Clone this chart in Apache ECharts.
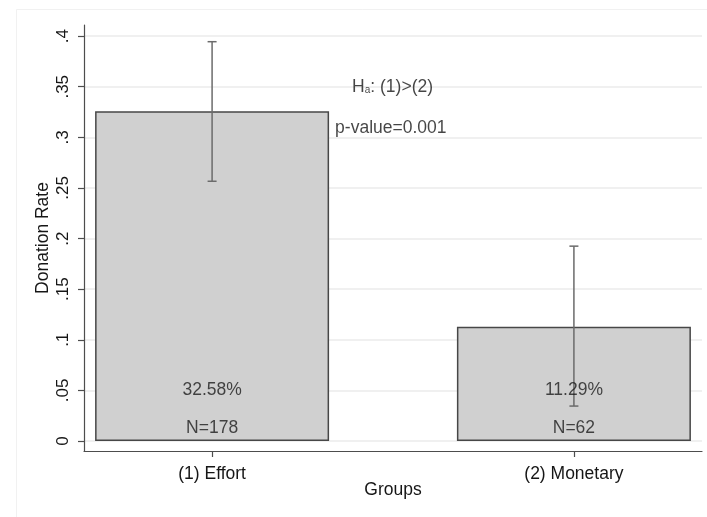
<!DOCTYPE html>
<html>
<head>
<meta charset="utf-8">
<script src="https://cdn.jsdelivr.net/npm/echarts@6/dist/echarts.min.js"></script>
<style>
html,body{margin:0;padding:0;background:#fff;}
#c{width:707px;height:517px;}
</style>
</head>
<body>
<div id="c"></div>
<script>
// ---- data ----
const categories = ['(1) Effort', '(2) Monetary'];
const rates = [0.3258, 0.1129];
const ciLow = [0.2566, 0.0345];
const ciHigh = [0.3945, 0.1925];
const counts = [178, 62];
const yTicks = [0, 0.05, 0.1, 0.15, 0.2, 0.25, 0.3, 0.35, 0.4];
const xPos = [1, 2];

const FONT = '"Liberation Sans", Arial, sans-serif';
const TXT = '#161616';
const chart = echarts.init(document.getElementById('c'), null, {renderer: 'canvas'});

const barData = xPos.map((x, i) => [x, rates[i]]);
const errData = xPos.map((x, i) => [x, ciLow[i], ciHigh[i]]);
const pctLabelData = xPos.map((x, i) => ({value: [x, 0.05], label: {formatter: (rates[i] * 100).toFixed(2) + '%'}}));
const nLabelData = xPos.map((x, i) => ({value: [x, 0.013], label: {formatter: 'N=' + counts[i]}}));

const option = {
  backgroundColor: '#fff',
  animation: false,
  graphic: [{
    type: 'rect', left: 14, top: 7, silent: true, z: -10,
    shape: {width: 720, height: 540},
    style: {fill: 'none', stroke: '#f1f1f1', lineWidth: 1}
  }],
  grid: {left: 84, right: 5, top: 25, bottom: 66, containLabel: false},
  xAxis: {
    type: 'value', min: 0.646, max: 2.354,
    name: 'Groups', nameLocation: 'middle', nameGap: 30, nameMoveOverlap: false,
    nameTextStyle: {fontFamily: FONT, fontSize: 17.5, color: TXT},
    axisLine: {show: true, onZero: false, lineStyle: {color: '#4d4d4d', width: 1.2}},
    axisTick: {show: true, length: 6, customValues: xPos, lineStyle: {color: '#4d4d4d', width: 1.2}},
    axisLabel: {
      customValues: xPos, margin: 14,
      fontFamily: FONT, fontSize: 17.5, color: TXT,
      formatter: v => categories[Math.round(v) - 1]
    },
    splitLine: {show: false}
  },
  yAxis: {
    type: 'value', min: -0.0099, max: 0.411,
    name: 'Donation Rate', nameLocation: 'middle', nameGap: 32, nameRotate: 90, nameMoveOverlap: false,
    nameTextStyle: {fontFamily: FONT, fontSize: 17.5, color: TXT},
    axisLine: {show: true, onZero: false, lineStyle: {color: '#4d4d4d', width: 1.2}},
    axisTick: {show: true, length: 6, customValues: yTicks, lineStyle: {color: '#4d4d4d', width: 1.2}},
    axisLabel: {
      customValues: yTicks, rotate: 90, margin: 12,
      fontFamily: FONT, fontSize: 17, color: TXT,
      formatter: v => v === 0 ? '0' : String(+v.toFixed(2)).replace(/^0/, '')
    },
    splitLine: {show: true, lineStyle: {color: '#ebebeb', width: 1.5}}
  },
  series: [
    {
      type: 'bar', data: barData, barWidth: 234,
      itemStyle: {color: '#d0d0d0', borderColor: '#474747', borderWidth: 1.5},
      z: 2
    },
    {
      type: 'custom', data: errData, z: 5,
      renderItem: (params, api) => {
        const x = api.value(0);
        const lo = api.coord([x, api.value(1)]);
        const hi = api.coord([x, api.value(2)]);
        const hw = 4.5;
        const st = {stroke: '#6b6b6b', lineWidth: 1.5};
        return {type: 'group', children: [
          {type: 'line', shape: {x1: lo[0], y1: lo[1], x2: hi[0], y2: hi[1]}, style: st},
          {type: 'line', shape: {x1: lo[0] - hw, y1: lo[1], x2: lo[0] + hw, y2: lo[1]}, style: st},
          {type: 'line', shape: {x1: hi[0] - hw, y1: hi[1], x2: hi[0] + hw, y2: hi[1]}, style: st}
        ]};
      }
    },
    {
      type: 'scatter', symbolSize: 0, z: 6, data: pctLabelData,
      label: {show: true, position: 'inside', fontFamily: FONT, fontSize: 17.5, color: '#1c1c1c'}
    },
    {
      type: 'scatter', symbolSize: 0, z: 6, data: nLabelData,
      label: {show: true, position: 'inside', fontFamily: FONT, fontSize: 17.5, color: '#1c1c1c'}
    },
    {
      type: 'scatter', symbolSize: 0, z: 6,
      data: [
        {value: [1.387, 0.35], label: {formatter: 'H{sub|a}: (1)>(2)'}},
        {value: [1.34, 0.309], label: {formatter: 'p-value=0.001'}}
      ],
      label: {
        show: true, position: 'right', distance: 0,
        fontFamily: FONT, fontSize: 17.5, color: TXT,
        rich: {sub: {fontFamily: FONT, fontSize: 10, color: TXT, verticalAlign: 'bottom', padding: [8, 0, 0, 0]}}
      }
    }
  ]
};
chart.setOption(option);
</script>
</body>
</html>
